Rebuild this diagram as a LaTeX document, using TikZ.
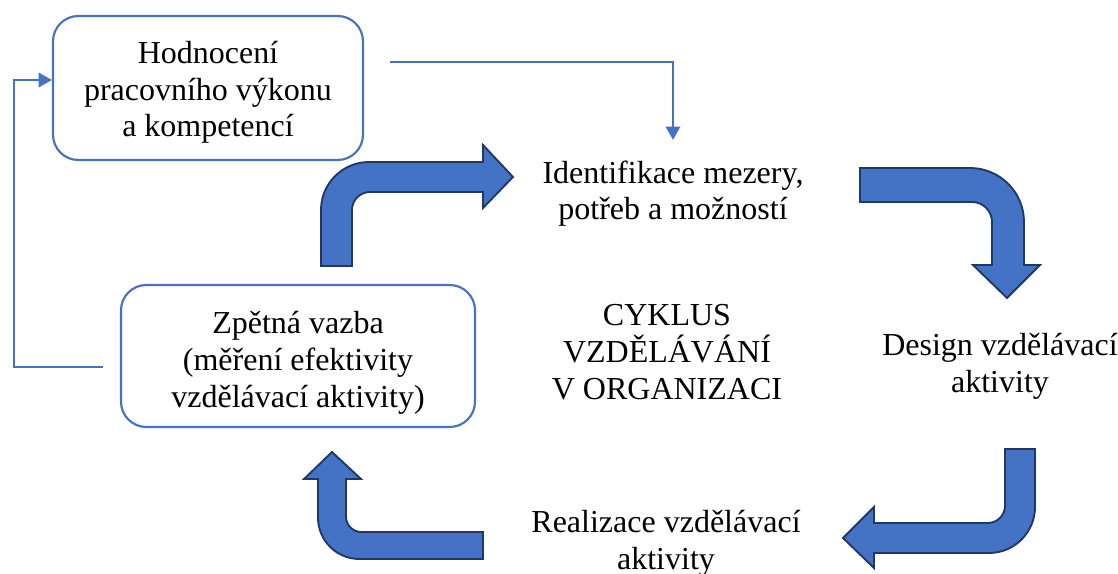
\documentclass[tikz,border=0pt]{standalone}
\usepackage{fontspec}
\setmainfont{Liberation Serif}
\usetikzlibrary{arrows.meta}

\definecolor{boxblue}{HTML}{4472C4}
\definecolor{edgenavy}{HTML}{1F3864}

\tikzset{
  cyclefont/.style={font=\fontsize{24}{27.5}\selectfont},
  cyclebox/.style={cyclefont, draw=boxblue, line width=1.6pt, rounded corners=19pt,
    align=center, inner sep=0pt, text depth=0pt},
  cycletext/.style={cyclefont, align=center, inner sep=0pt, anchor=base},
  thinlink/.style={draw=boxblue, line width=1.3pt, -{Triangle[width=11pt,length=10pt]}},
  bentarrow/.style={fill=boxblue, draw=edgenavy, line width=1.4pt, line join=miter},
}

\begin{document}
\begin{tikzpicture}[x=0.75pt, y=-0.75pt]
                        \useasboundingbox (0,0) rectangle (1118,574);

                        % Drawing box eval
                        \node [cyclebox, minimum width=232.5pt, minimum height=108pt, text height=73.5pt] (eval) at (208,88)
                          {Hodnocení\\ pracovního výkonu\\ a kompetencí};%

                        % Drawing box feedback
                        \node [cyclebox, minimum width=265.5pt, minimum height=106.5pt, text height=76.5pt] (feedback) at (298,356)
                          {Zpětná vazba\\ (měření efektivity\\ vzdělávací aktivity)};%

                        % Marking step gap
                        \node [cycletext] (gap) at (673,220) {Identifikace mezery,\\ potřeb a možností};%

                        % Marking step design
                        \node [cycletext] (design) at (1000,392) {Design vzdělávací\\ aktivity};%

                        % Marking step realize
                        \node [cycletext] (realize) at (666,569) {Realizace vzdělávací\\ aktivity};%

                        % Marking title
                        \node [cycletext] (title) at (667,399) {CYKLUS\\ VZDĚLÁVÁNÍ\\ V ORGANIZACI};%

                        % Drawing link eval -> gap
                        \coordinate (evalout) at (390,62);
                        \draw [thinlink, shorten >=15.5pt] (evalout) -| (gap.north);%

                        % Drawing link feedback -> eval
                        \coordinate (fbout) at (103,367);
                        \coordinate (loop) at (14,80);
                        \draw [thinlink] (fbout) -| (loop) -- (loop -| eval.west);%

                        % Drawing bent arrow feedback -> gap
                        \draw [bentarrow] (321,266) [rounded corners=36pt] -- (321,162) [sharp corners]
                          -- (483,162) -- (483,145) -- (513,177) -- (483,208) -- (483,192)
                          [rounded corners=13.5pt] -- (352,192) [sharp corners] -- (352,266) -- cycle;%

                        % Drawing bent arrow gap -> design
                        \draw [bentarrow] (860,168) [rounded corners=40.5pt] -- (1024,168) [sharp corners]
                          -- (1024,265) -- (1040,265) -- (1007,298) -- (973,265) -- (992,265)
                          [rounded corners=15pt] -- (992,202) [sharp corners] -- (860,202) -- cycle;%

                        % Drawing bent arrow design -> realize
                        \draw [bentarrow] (1005,449) -- (1035,449) [rounded corners=34.5pt] -- (1035,553) [sharp corners]
                          -- (874,553) -- (874,568) -- (843,538) -- (874,507) -- (874,523)
                          [rounded corners=13pt] -- (1005,523) [sharp corners] -- cycle;%

                        % Drawing bent arrow realize -> feedback
                        \draw [bentarrow] (483,532) [rounded corners=11.5pt] -- (346,532) [sharp corners]
                          -- (346,479) -- (361,479) -- (332,452) -- (304,479) -- (318,479)
                          [rounded corners=31pt] -- (318,559) [sharp corners] -- (483,559) -- cycle;%
\end{tikzpicture}
\end{document}
